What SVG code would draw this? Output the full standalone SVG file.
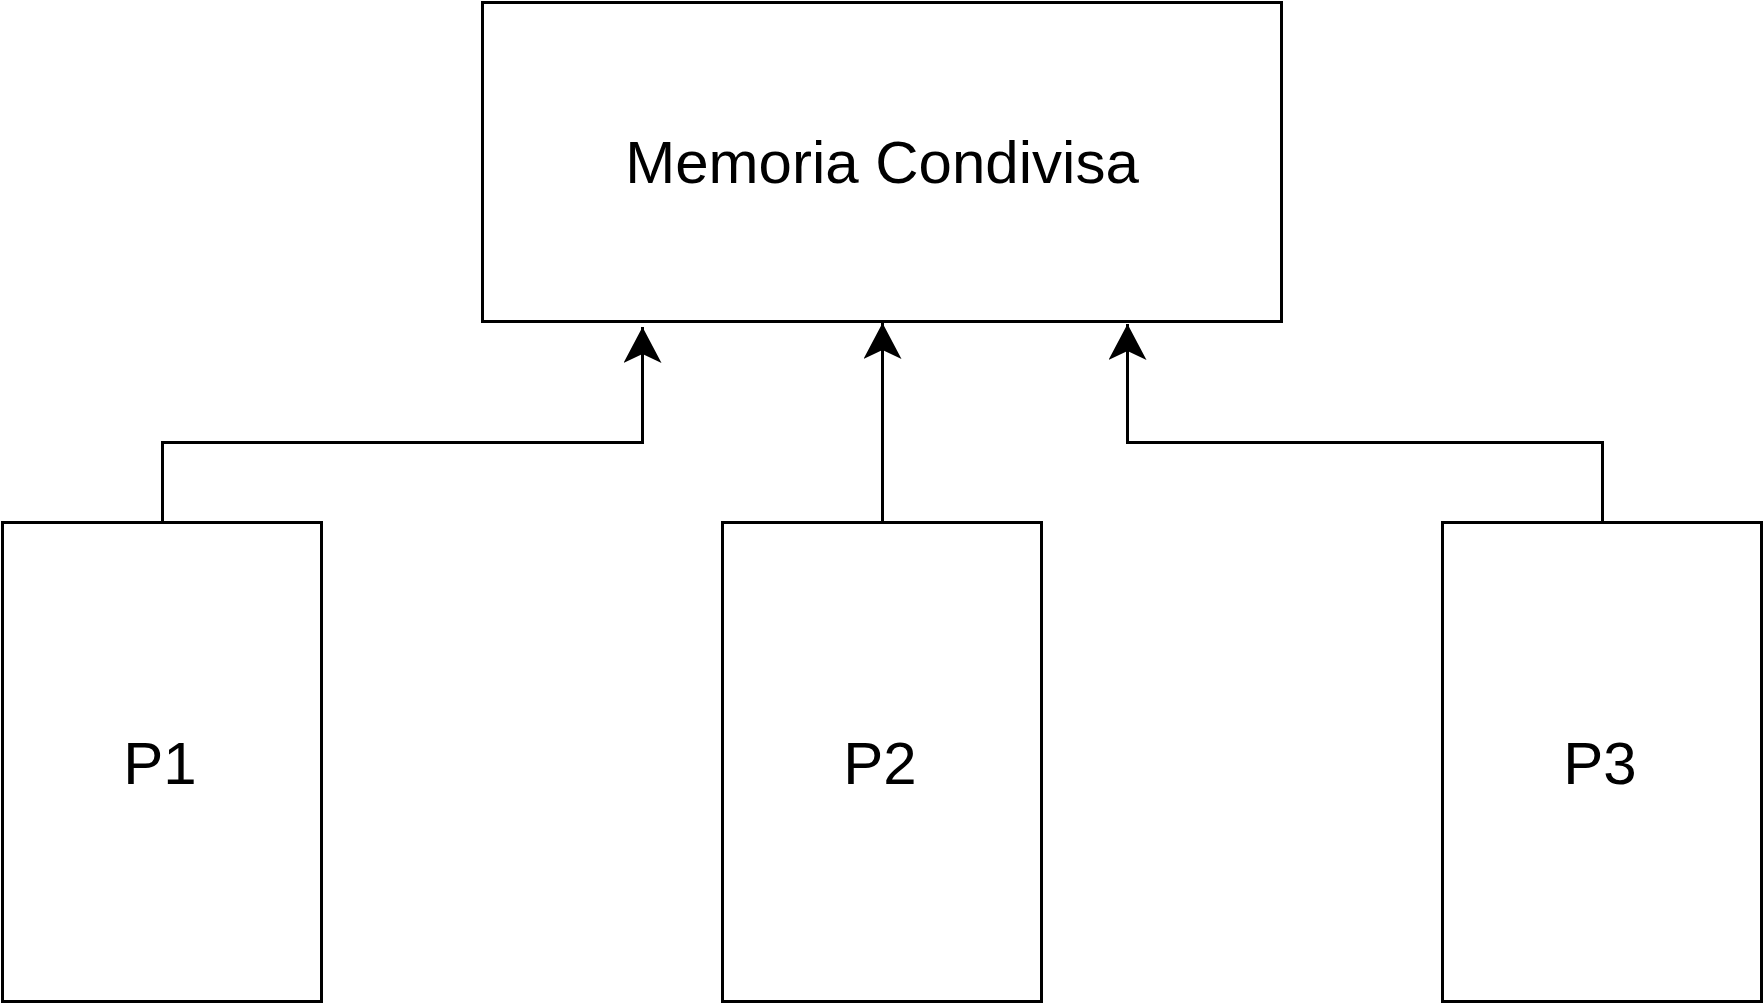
<svg xmlns="http://www.w3.org/2000/svg" width="1764" height="1008" viewBox="0 0 1764 1008">
  <style>
    .box { fill: #ffffff; stroke: #000000; stroke-width: 3; }
    .lbl { font-family: "Liberation Sans", Arial, sans-serif; font-size: 60px; fill: #000000; text-anchor: middle; }
    .conn { fill: none; stroke: #000000; stroke-width: 3; }
  </style>
  <defs>
    <marker id="arrow" viewBox="0 0 36 38" refX="36" refY="19" markerWidth="36" markerHeight="38" markerUnits="userSpaceOnUse" orient="auto">
      <path d="M0,0 L36,19 L0,38 L9,19 Z" fill="#000000"/>
    </marker>
  </defs>
  <rect width="1764" height="1008" fill="#ffffff"/>
  <g id="mem">
    <rect class="box" x="482.5" y="2.5" width="799" height="319"/>
    <text class="lbl" x="882" y="183">Memoria Condivisa</text>
  </g>
  <g id="p1">
    <rect class="box" x="2.5" y="522.5" width="319" height="479"/>
    <text class="lbl" x="160" y="784">P1</text>
  </g>
  <g id="p2">
    <rect class="box" x="722.5" y="522.5" width="319" height="479"/>
    <text class="lbl" x="880" y="784">P2</text>
  </g>
  <g id="p3">
    <rect class="box" x="1442.5" y="522.5" width="319" height="479"/>
    <text class="lbl" x="1600" y="784">P3</text>
  </g>
  <g id="connectors">
    <path class="conn" d="M162.5,522 L162.5,442.5 L642.5,442.5 L642.5,327" marker-end="url(#arrow)"/>
    <path class="conn" d="M882.5,522 L882.5,323" marker-end="url(#arrow)"/>
    <path class="conn" d="M1602.5,522 L1602.5,442.5 L1127.5,442.5 L1127.5,324" marker-end="url(#arrow)"/>
  </g>
</svg>
